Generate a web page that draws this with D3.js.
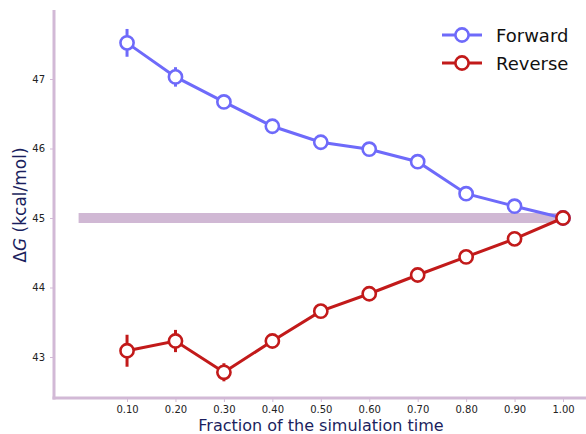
<!DOCTYPE html>
<html><head><meta charset="utf-8">
<script src="https://cdn.jsdelivr.net/npm/d3@7"></script>
<style>body{margin:0;background:#fff}svg{display:block}</style>
</head><body>
<svg id="c" width="586" height="434"></svg>
<script>
const fractions = [0.1,0.2,0.3,0.4,0.5,0.6,0.7,0.8,0.9,1.0];
const forward = [47.52,47.03,46.67,46.32,46.09,45.99,45.81,45.35,45.17,45.00];
const forwardErr = [0.20,0.14,0.06,0.03,0.03,0.03,0.03,0.03,0.03,0.02];
const reverse = [43.09,43.23,42.78,43.23,43.66,43.91,44.18,44.44,44.70,45.00];
const reverseErr = [0.23,0.16,0.13,0.03,0.03,0.03,0.03,0.03,0.03,0.02];
const xTicks = [0.1,0.2,0.3,0.4,0.5,0.6,0.7,0.8,0.9,1.0];
const yTicks = [43,44,45,46,47];
const refValue = 45.0;
const refRange = [0.0,1.0];

const svg = d3.select('#c');
const x = d3.scaleLinear().domain([0,1]).range([78.6,563]);
const y = d3.scaleLinear().domain([43,47]).range([357,79]);
const spine = '#d2b9d6';
const font = "'DejaVu Sans', sans-serif";

// reference band
svg.append('line').attr('x1',x(refRange[0])).attr('x2',x(refRange[1]))
  .attr('y1',y(refValue)).attr('y2',y(refValue))
  .attr('stroke','#d0b8d4').attr('stroke-width',10);

// axes
const xAxis = d3.axisBottom(x).tickValues(xTicks).tickFormat(d3.format('.2f')).tickSize(4).tickPadding(4);
const gx = svg.append('g').attr('transform','translate(0,398)').call(xAxis);
gx.select('.domain').remove();
gx.selectAll('line').attr('stroke',spine);
gx.selectAll('text').attr('font-family',font).attr('font-size',10).attr('fill','#222');

const yAxis = d3.axisLeft(y).tickValues(yTicks).tickFormat(d3.format('d')).tickSize(4).tickPadding(5);
const gy = svg.append('g').attr('transform','translate(54,0)').call(yAxis);
gy.select('.domain').remove();
gy.selectAll('line').attr('stroke',spine);
gy.selectAll('text').attr('font-family',font).attr('font-size',10).attr('fill','#222');

svg.append('line').attr('x1',54).attr('x2',54).attr('y1',10).attr('y2',399.5).attr('stroke',spine).attr('stroke-width',3);
svg.append('line').attr('x1',52.5).attr('x2',586).attr('y1',398).attr('y2',398).attr('stroke',spine).attr('stroke-width',3);

function series(vals, errs, color){
  const data = fractions.map((f,i)=>({f,v:vals[i],e:errs[i]}));
  const g = svg.append('g');
  g.append('path').datum(data)
    .attr('d', d3.line().x(d=>x(d.f)).y(d=>y(d.v)))
    .attr('fill','none').attr('stroke',color).attr('stroke-width',3);
  g.selectAll('.eb').data(data).enter().append('line')
    .attr('x1',d=>x(d.f)).attr('x2',d=>x(d.f))
    .attr('y1',d=>y(d.v-d.e)).attr('y2',d=>y(d.v+d.e))
    .attr('stroke',color).attr('stroke-width',3);
  g.selectAll('circle').data(data).enter().append('circle')
    .attr('cx',d=>x(d.f)).attr('cy',d=>y(d.v)).attr('r',6.6)
    .attr('fill','#fff').attr('stroke',color).attr('stroke-width',2.6);
}
const cF = '#6e6afa', cR = '#c21a1a';
series(forward, forwardErr, cF);
series(reverse, reverseErr, cR);

// legend
const legend = [{name:'Forward',c:cF},{name:'Reverse',c:cR}];
legend.forEach((l,i)=>{
  const yy = 35 + i*28;
  svg.append('line').attr('x1',442).attr('x2',482).attr('y1',yy).attr('y2',yy).attr('stroke',l.c).attr('stroke-width',3);
  svg.append('circle').attr('cx',462).attr('cy',yy).attr('r',6.6).attr('fill','#fff').attr('stroke',l.c).attr('stroke-width',2.6);
  svg.append('text').attr('x',496).attr('y',yy+6.5).text(l.name)
    .attr('font-family',font).attr('font-size',18).attr('fill','#111');
});

// axis labels
const navy = '#1b1f5e';
svg.append('text').attr('x',321).attr('y',431).attr('text-anchor','middle')
  .attr('font-family',font).attr('font-size',16).attr('fill',navy)
  .text('Fraction of the simulation time');
const yl = svg.append('text').attr('transform','translate(26,205) rotate(-90)')
  .attr('text-anchor','middle').attr('font-family',font).attr('font-size',17).attr('fill',navy);
yl.append('tspan').text('Δ');
yl.append('tspan').attr('font-style','italic').text('G');
yl.append('tspan').text(' (kcal/mol)');
</script>
</body></html>
